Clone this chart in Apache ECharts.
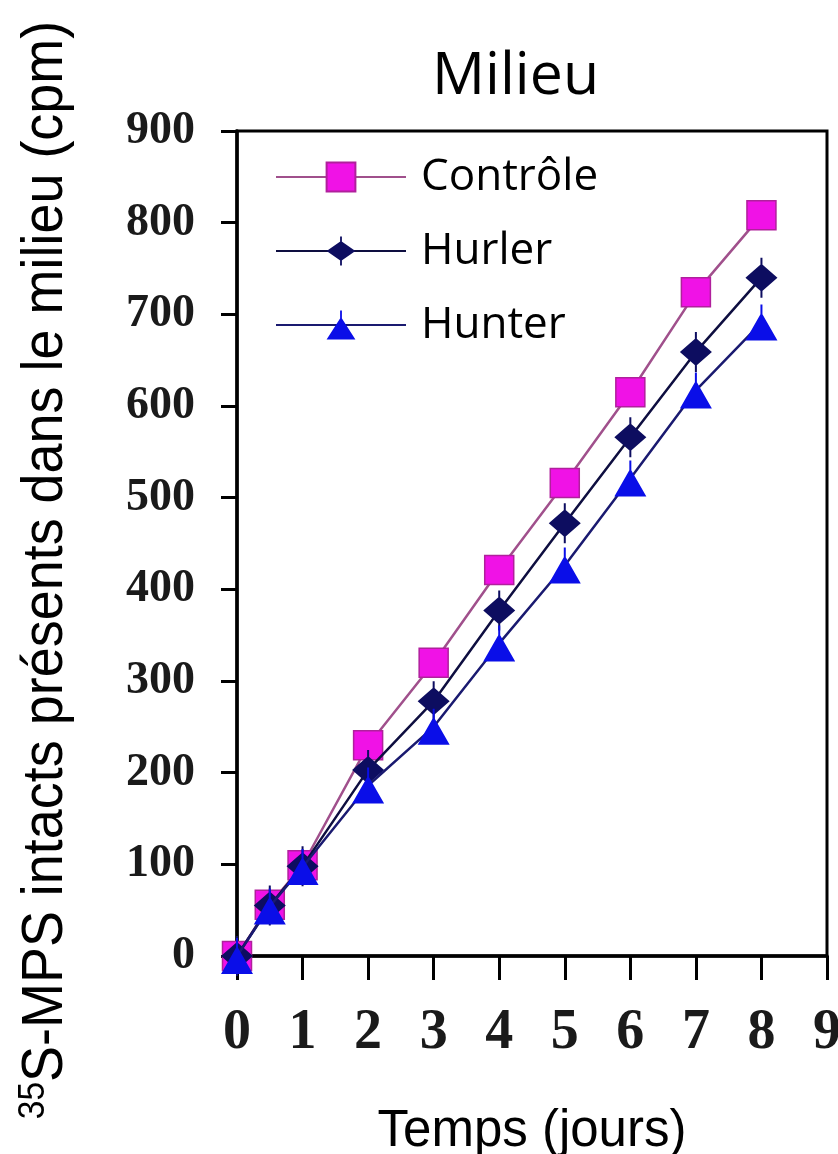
<!DOCTYPE html>
<html>
<head>
<meta charset="utf-8">
<script src="https://cdn.jsdelivr.net/npm/echarts@6/dist/echarts.min.js"></script>
<style>
  html, body { margin: 0; padding: 0; background: #fff; }
  #chart1 { width: 838px; height: 1154px; }
</style>
</head>
<body>
<div id="chart1"></div>
<script>
// jours de mesure
var days = [0, 0.5, 1, 2, 3, 4, 5, 6, 7, 8];
// cpm dans le milieu
var controle = [0, 56, 99, 230, 320, 421, 516, 615, 724, 808];
var hurler = [0, 55, 98, 203, 278, 377, 472, 566, 659, 740];
var hunter = [0, 54, 97, 186, 250, 341, 426, 521, 617, 691];

var seriesNames = ['Contrôle', 'Hurler', 'Hunter'];

function pairs(vals) {
    return days.map(function (d, i) { return [d, vals[i]]; });
}

var dom = document.getElementById('chart1');
var myChart = echarts.init(dom);

myChart.setOption({
    animation: false,
    backgroundColor: '#fff',
    title: {
        text: 'Milieu',
        left: 432,
        top: 48,
        padding: 0,
        textStyle: { fontFamily: 'Open Sans', fontSize: 59, fontWeight: 'normal', color: '#000' }
    },
    legend: {
        orient: 'vertical',
        left: 270,
        top: 150,
        itemWidth: 130,
        itemHeight: 36,
        itemGap: 30,
        data: seriesNames,
        textStyle: { fontFamily: 'Open Sans', fontSize: 44, color: '#000', padding: [0, 0, 0, 10] }
    },
    grid: {
        left: 237,
        right: 11,
        top: 131,
        bottom: 198,
        outerBoundsMode: 'none',
        show: true,
        borderColor: '#000',
        borderWidth: 3
    },
    // titre de l'axe y, police étroite simulée
    graphic: [{
        type: 'text',
        x: 46,
        y: 570,
        rotation: Math.PI / 2,
        scaleX: 0.93,
        style: {
            text: '{sup|35}{main|S-MPS intacts présents dans le milieu (cpm)}',
            align: 'center',
            verticalAlign: 'middle',
            fill: '#000',
            rich: {
                sup: { fontFamily: 'Liberation Sans', fontSize: 36, verticalAlign: 'top', lineHeight: 60 },
                main: { fontFamily: 'Liberation Sans', fontSize: 58, lineHeight: 60 }
            }
        }
    }],
    xAxis: {
        type: 'value',
        min: 0,
        max: 9,
        interval: 1,
        name: 'Temps (jours)',
        nameLocation: 'middle',
        nameGap: 150,
        nameTextStyle: { fontFamily: 'Liberation Sans', fontSize: 51, color: '#000' },
        axisLine: { lineStyle: { color: '#000', width: 3.5 } },
        axisTick: { length: 24, lineStyle: { color: '#000', width: 3 } },
        axisLabel: { fontFamily: 'Liberation Serif', fontWeight: 'bold', fontSize: 56, color: '#1a1a1a', margin: 50 },
        splitLine: { show: false }
    },
    yAxis: {
        type: 'value',
        min: 0,
        max: 900,
        interval: 100,
        axisLine: { show: true, lineStyle: { color: '#000', width: 3.5 } },
        axisTick: { show: true, length: 16, lineStyle: { color: '#000', width: 3 } },
        axisLabel: { fontFamily: 'Liberation Serif', fontWeight: 'bold', fontSize: 46, color: '#1a1a1a', margin: 42 },
        splitLine: { show: false }
    },
    series: [{
        name: 'Contrôle',
        type: 'line',
        data: pairs(controle),
        symbol: 'rect',
        symbolSize: 29,
        lineStyle: { color: '#a0508c', width: 2.5 },
        itemStyle: { color: '#f012e6', borderColor: '#b0209c', borderWidth: 1.5 },
        z: 2
    }, {
        name: 'Hurler',
        type: 'line',
        data: pairs(hurler),
        symbol: 'path://M16,6 L32,20 L16,34 L0,20 Z M15,0 L17,0 L17,40 L15,40 Z',
        symbolSize: [32, 40],
        lineStyle: { color: '#0e0e40', width: 2.5 },
        itemStyle: { color: '#0d0d60' },
        z: 3
    }, {
        name: 'Hunter',
        type: 'line',
        data: pairs(hunter),
        symbol: 'path://M16,8 L32,36 L0,36 Z M15,0 L17,0 L17,10 L15,10 Z',
        symbolSize: [32, 36],
        lineStyle: { color: '#1a1a70', width: 2.5 },
        itemStyle: { color: '#0a0ee8' },
        z: 4
    }]
});
</script>
</body>
</html>
